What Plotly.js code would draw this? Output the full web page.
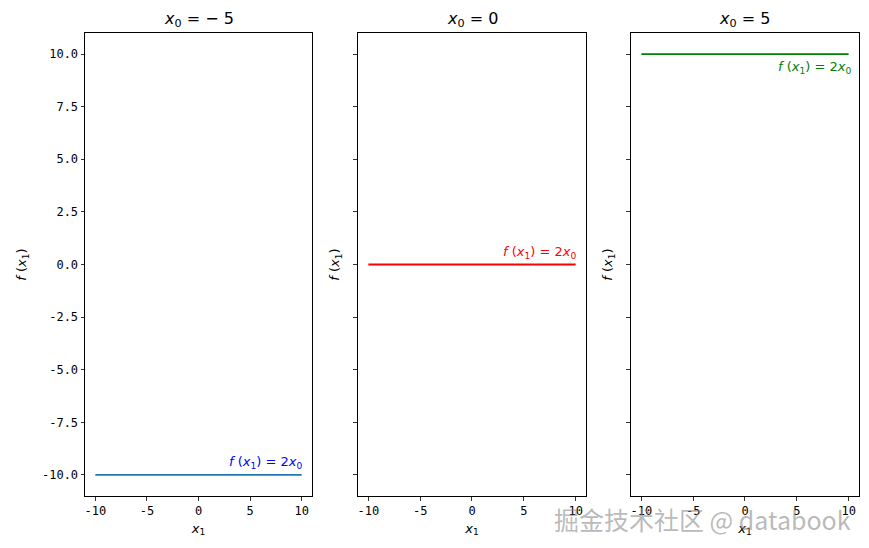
<!DOCTYPE html>
<html><head><meta charset="utf-8">
<script src="https://cdn.plot.ly/plotly-3.0.1.min.js"></script>
<style>body{margin:0;padding:0;background:#fff}</style>
</head><body>
<div id="chart" style="width:869px;height:548px"></div>
<script>
const x0Values = [-5, 0, 5];
const x1Values = [-10, 10];
const panelTitles = ['<i>x</i><sub>0</sub> = − 5', '<i>x</i><sub>0</sub> = 0', '<i>x</i><sub>0</sub> = 5'];
const lineColors = ['#1f77b4', '#ff0000', '#008000'];
const textColors = ['#0000ff', '#ff0000', '#008000'];
const yTicks = [-10, -7.5, -5, -2.5, 0, 2.5, 5, 7.5, 10];
const xTicks = [-10, -5, 0, 5, 10];

const domains = [[0, 0.2933], [0.3527, 0.6473], [0.7054, 1]];
const traces = [];
const annotations = [];
const layout = {
  width: 869, height: 548,
  margin: {l: 85, r: 10, t: 33, b: 52},
  paper_bgcolor: '#fff', plot_bgcolor: '#fff',
  showlegend: false,
  font: {family: 'DejaVu Sans', color: '#000'},
  annotations: annotations
};
const tickFont = {family: 'DejaVu Sans Mono', size: 12, color: '#000'};

x0Values.forEach((x0, i) => {
  const n = i === 0 ? '' : String(i + 1);
  const xa = 'x' + n, ya = 'y' + n;
  const yv = x1Values.map(() => 2 * x0);
  traces.push({x: x1Values, y: yv, xaxis: xa, yaxis: ya, mode: 'lines',
    line: {color: lineColors[i], width: 1.8}, hoverinfo: 'none'});
  layout['xaxis' + n] = {
    domain: domains[i], anchor: ya, range: [-11, 11],
    tickvals: xTicks, ticktext: xTicks.map(String),
    ticks: 'outside', ticklen: 3.5, tickwidth: 0.8, tickcolor: '#000',
    showline: true, linecolor: '#000', linewidth: 1, mirror: true,
    showgrid: false, zeroline: false, tickfont: tickFont,
    title: {text: '<i>x</i><sub>1</sub>', font: {size: 13}, standoff: 6}
  };
  layout['yaxis' + n] = {
    domain: [0, 1], anchor: xa, range: [-11, 11],
    tickvals: yTicks, ticktext: yTicks.map(v => v.toFixed(1)),
    showticklabels: i === 0,
    ticks: 'outside', ticklen: 3.5, tickwidth: 0.8, tickcolor: '#000',
    showline: true, linecolor: '#000', linewidth: 1, mirror: true,
    showgrid: false, zeroline: false, tickfont: tickFont,
    title: {text: '<i>f</i> (<i>x</i><sub>1</sub>)', font: {size: 13}, standoff: i === 0 ? 12 : 10}
  };
  annotations.push({xref: xa + ' domain', yref: 'paper', x: 0.5, y: 1, yanchor: 'bottom', yshift: 1,
    text: panelTitles[i], showarrow: false, font: {size: 16, color: '#000'}});
  const above = i < 2;
  annotations.push({xref: xa, yref: ya, x: 10, y: 2 * x0,
    xanchor: 'right', yanchor: above ? 'bottom' : 'top', yshift: above ? 2 : -3, xshift: i === 2 ? 5 : 3,
    text: '<i>f</i> (<i>x</i><sub>1</sub>) = 2<i>x</i><sub>0</sub>', showarrow: false,
    font: {size: 13, color: textColors[i]}});
});

annotations.push({xref: 'paper', yref: 'paper', x: 1, y: 0, xanchor: 'right', yanchor: 'top', yshift: -3, xshift: -6,
  text: '掘金技术社区 @ databook', showarrow: false,
  font: {family: 'Noto Sans CJK SC', size: 25, color: 'rgba(140,140,140,0.6)'}});

Plotly.newPlot('chart', traces, layout, {displayModeBar: false, staticPlot: true});
</script>
</body></html>
